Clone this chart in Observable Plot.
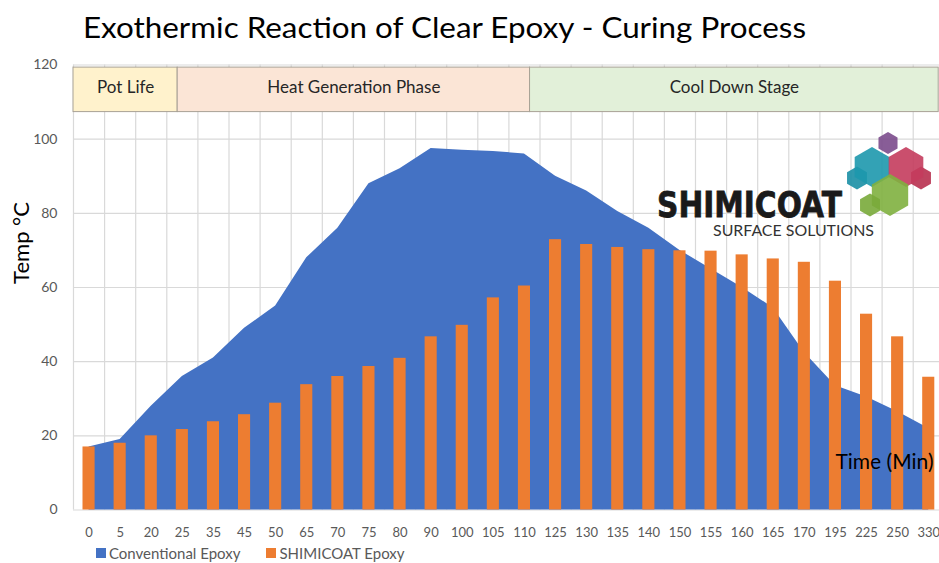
<!DOCTYPE html>
<html>
<head>
<meta charset="utf-8">
<script src="https://cdn.jsdelivr.net/npm/d3@7"></script>
<script src="https://cdn.jsdelivr.net/npm/@observablehq/plot@0.6"></script>
<style>
  html, body { margin: 0; padding: 0; background: #fff; width: 939px; height: 563px; overflow: hidden; }
  body { position: relative; font-family: Lato, "Open Sans", sans-serif; }
  #title { height: 46px; }
  #title svg, #logo svg { display: block; }
  #legend { position: absolute; left: 96px; top: 545px; display: flex; align-items: center; font-size: 15px; color: #595959; line-height: 16px; }
  #legend .sw { display: inline-block; width: 10px; height: 10px; margin-right: 3px; }
  #legend .item { display: flex; align-items: center; margin-right: 26px; }
  #logo { position: absolute; left: 640px; top: 125px; }
</style>
</head>
<body>
<div id="title"></div>
<div id="chart"></div>
<div id="legend"></div>
<div id="logo"></div>
<script>
// ---- data ----
const titleText = "Exothermic Reaction of Clear Epoxy - Curing Process";
const times = ["0","5","20","25","35","45","50","65","70","75","80","90","100","105","110","125","130","135","140","150","155","160","165","170","195","225","250","330"];
const conventional = [17,19,28,36,41,49,55,68,76,88,92,97.5,97,96.7,96,90,86,80.5,76,70,65,60,54.5,42.5,33.5,30.5,26.5,22];
const shimicoat = [17,18,20,21.7,23.8,25.7,28.8,33.8,36,38.7,40.9,46.7,49.8,57.2,60.4,72.9,71.6,70.8,70.2,69.9,69.8,68.8,67.7,66.8,61.7,52.8,46.7,35.8];
const seriesNames = ["Conventional Epoxy", "SHIMICOAT Epoxy"];
const phaseNames = ["Pot Life", "Heat Generation Phase", "Cool Down Stage"];
const phaseStart = [-0.5, 2.85, 14.18];   // in category-index units
const phaseEnd = [2.85, 14.18, 27.32];
const phaseTop = 119.3, phaseBottom = 107.3;
const yTicks = [0, 20, 40, 60, 80, 100, 120];
const yLabel = "Temp °C";
const xLabel = "Time (Min)";

// ---- styles ----
const blue = "#4472C4", orange = "#ED7D31";
const phaseFills = ["#FFF2CC", "#FBE5D6", "#E2F0D9"];
const grid = "#d9d9d9";

// ---- title ----
{
  const s = d3.select("#title").append("svg").attr("width", 939).attr("height", 46);
  s.append("text").attr("x", 83).attr("y", 37.5)
    .attr("font-size", 28).attr("fill", "#000")
    .attr("textLength", 723).attr("lengthAdjust", "spacingAndGlyphs")
    .style("font-family", "Lato, 'Open Sans', sans-serif")
    .text(titleText);
}

// ---- chart ----
const data = times.map((t, i) => ({i, t, conv: conventional[i], shimi: shimicoat[i]}));
const phases = phaseNames.map((name, k) => ({name, x1: phaseStart[k], x2: phaseEnd[k], fill: phaseFills[k]}));
const n = times.length;

const chart = Plot.plot({
  width: 939,
  height: 497,
  marginLeft: 73,
  marginRight: 0,
  marginTop: 18.5,
  marginBottom: 33.5,
  x: {domain: [-0.5, n - 0.5], range: [73, 943.8]},
  y: {domain: [0, 120], range: [463.5, 18.5]},
  color: {type: "identity"},
  style: {fontFamily: "Lato, 'Open Sans', sans-serif", background: "#fff", overflow: "hidden"},
  marks: [
    Plot.ruleY(yTicks, {x1: -0.5, x2: n - 0.5, stroke: grid, strokeWidth: 1.2}),
    Plot.ruleX(d3.range(n + 1).map(i => i - 0.5), {y1: 0, y2: 120, stroke: grid, strokeWidth: 1.2}),
    Plot.areaY(data, {x: "i", y: "conv", fill: blue}),
    Plot.rectY(data, {x1: d => d.i - 0.5, x2: d => d.i + 0.5, y: "shimi", insetLeft: 9.5, insetRight: 9.5, fill: orange}),
    Plot.rect(phases, {x1: "x1", x2: "x2", y1: phaseBottom, y2: phaseTop, fill: "fill", stroke: "#a8a195", strokeWidth: 1}),
    Plot.text(phases, {x: d => (d.x1 + d.x2) / 2, y: (phaseTop + phaseBottom) / 2, text: "name", fontSize: 17, fill: "#262626", dy: -2}),
    Plot.axisX(data.map(d => d.i), {tickFormat: i => times[i], tickSize: 0, tickPadding: 18, fontSize: 13, color: "#595959", label: null}),
    Plot.axisY(yTicks, {tickSize: 0, tickPadding: 16, fontSize: 14, color: "#595959", label: null}),
    Plot.text([yLabel], {frameAnchor: "left", y: 72, rotate: -90, dx: -52, fontSize: 22, fill: "#000", textAnchor: "middle", lineAnchor: "middle"}),
    Plot.text([xLabel], {frameAnchor: "right", y: 13, dx: -6, fontSize: 21, fill: "#000", lineAnchor: "middle"})
  ]
});
document.getElementById("chart").appendChild(chart);

// ---- legend ----
const leg = d3.select("#legend");
[blue, orange].forEach((c, k) => {
  const it = leg.append("div").attr("class", "item");
  it.append("span").attr("class", "sw").style("background", c);
  it.append("span").text(seriesNames[k]);
});

// ---- logo ----
{
  const s = d3.select("#logo").append("svg").attr("width", 299).attr("height", 115);
  const ox = 640, oy = 125;
  const hex = (cx, cy, r) => d3.range(6).map(k => {
    const a = (Math.PI / 180) * (-90 + 60 * k);
    return [cx - ox + r * Math.cos(a), cy - oy + r * Math.sin(a)].join(",");
  }).join(" ");
  const hexes = [
    [857, 178, 11.5, "#1a8fa5"],
    [921, 178, 11.5, "#b8304f"],
    [872, 167, 20, "#1d98ad"],
    [906, 167, 20, "#c43c5d"],
    [888, 143, 11, "#7b4b8c"],
    [890, 195, 21, "#7fb03f"],
    [870, 205, 11.5, "#79aa3a"]
  ];
  hexes.forEach(([x, y, r, c]) => s.append("polygon").attr("points", hex(x, y, r)).attr("fill", c).attr("fill-opacity", 0.9));
  s.append("text").attr("x", 657 - ox).attr("y", 216.5 - oy)
    .attr("font-size", 35).attr("font-weight", 900).attr("fill", "#1a1a1a")
    .attr("stroke", "#1a1a1a").attr("stroke-width", 0.8)
    .attr("textLength", 185).attr("lengthAdjust", "spacingAndGlyphs")
    .style("font-family", "'DejaVu Sans', sans-serif").text("SHIMICOAT");
  s.append("text").attr("x", 713 - ox).attr("y", 235.5 - oy)
    .attr("font-size", 15.5).attr("fill", "#333")
    .attr("textLength", 161).attr("lengthAdjust", "spacingAndGlyphs")
    .style("font-family", "Lato, sans-serif").text("SURFACE SOLUTIONS");
}
</script>
</body>
</html>
